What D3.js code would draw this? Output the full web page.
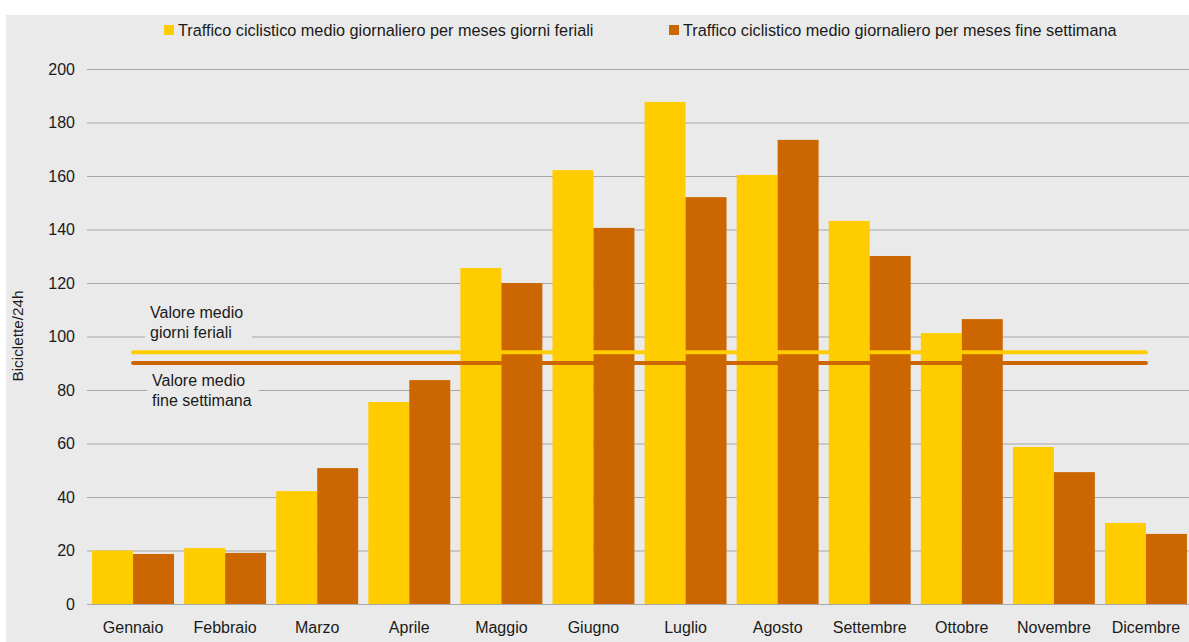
<!DOCTYPE html>
<html>
<head>
<meta charset="utf-8">
<script src="https://cdn.jsdelivr.net/npm/d3@7"></script>
<style>
  html, body { margin: 0; padding: 0; background: #ffffff; }
  svg { display: block; }
  text { font-family: "Liberation Sans", Arial, sans-serif; fill: #1a1a1a; }
</style>
</head>
<body>
<svg id="chart" width="1189" height="642"></svg>
<script>
const months = ["Gennaio","Febbraio","Marzo","Aprile","Maggio","Giugno","Luglio","Agosto","Settembre","Ottobre","Novembre","Dicembre"];
const seriesNames = [
  "Traffico ciclistico medio giornaliero per meses giorni feriali",
  "Traffico ciclistico medio giornaliero per meses fine settimana"
];
const weekdayValues = [20.0, 20.9, 42.2, 75.5, 125.6, 162.2, 187.7, 160.4, 143.2, 101.3, 58.7, 30.3];
const weekendValues = [18.7, 19.1, 50.8, 83.7, 120.0, 140.6, 152.1, 173.5, 130.1, 106.5, 49.3, 26.2];
const meanWeekday = 94.1;
const meanWeekend = 90.1;
const yTicks = [0, 20, 40, 60, 80, 100, 120, 140, 160, 180, 200];
const meanLabels = [["Valore medio", "giorni feriali"], ["Valore medio", "fine settimana"]];
const yTitle = "Biciclette/24h";

const colors = ["#FFCC00", "#CC6600"];
const bg = "#EAEAEA";
const W = 1189, H = 642;
const plotLeft = 87, plotRight = 1189;

const svg = d3.select("#chart");
svg.append("rect").attr("x", 6).attr("y", 15).attr("width", W - 6).attr("height", H - 15).attr("fill", bg);

const y = d3.scaleLinear().domain([0, 200]).range([604, 69]);
const x0 = d3.scaleBand().domain(months).range([87, 1192]).paddingInner(0.11).paddingOuter(0.055);
const x1 = d3.scaleBand().domain(seriesNames).range([0, x0.bandwidth()]);

// gridlines + y tick labels
const yAxis = svg.append("g")
  .attr("transform", `translate(${plotLeft},0)`)
  .call(d3.axisLeft(y).tickValues(yTicks).tickSize(-(plotRight - plotLeft)).tickPadding(12).tickFormat(d3.format("d")));
yAxis.select(".domain").remove();
yAxis.selectAll(".tick line").attr("stroke", "#A6A6A6").attr("stroke-width", 1.2);
yAxis.selectAll(".tick text").attr("font-size", 16).attr("fill", "#1a1a1a").attr("font-family", "Liberation Sans, Arial, sans-serif");

// annotation background boxes (hide gridlines behind text)
const annBoxes = [
  {x: 145, y: 300, w: 107, h: 44, lines: meanLabels[0], tx: 150, ty: 318},
  {x: 147, y: 367, w: 112, h: 43, lines: meanLabels[1], tx: 152, ty: 386}
];
annBoxes.forEach(a => {
  svg.append("rect").attr("x", a.x).attr("y", a.y).attr("width", a.w).attr("height", a.h).attr("fill", bg);
});

// bars
const seriesData = [weekdayValues, weekendValues];
const groups = svg.append("g").selectAll("g")
  .data(months)
  .join("g")
  .attr("transform", d => `translate(${x0(d)},0)`);
groups.selectAll("rect")
  .data((m, i) => seriesNames.map((s, j) => ({s, v: seriesData[j][i], c: colors[j]})))
  .join("rect")
  .attr("x", d => x1(d.s))
  .attr("width", x1.bandwidth())
  .attr("y", d => y(d.v))
  .attr("height", d => y(0) - y(d.v))
  .attr("fill", d => d.c);

// mean lines
const xStart = x0(months[0]) + x0.bandwidth() / 2;
const xEnd = x0(months[months.length - 1]) + x0.bandwidth() / 2;
[[meanWeekday, colors[0]], [meanWeekend, colors[1]]].forEach(([v, c]) => {
  svg.append("line")
    .attr("x1", xStart).attr("x2", xEnd)
    .attr("y1", y(v)).attr("y2", y(v))
    .attr("stroke", c).attr("stroke-width", 4).attr("stroke-linecap", "round");
});

// annotation texts
annBoxes.forEach(a => {
  const t = svg.append("text").attr("x", a.tx).attr("y", a.ty).attr("font-size", 16);
  a.lines.forEach((l, i) => {
    t.append("tspan").attr("x", a.tx).attr("dy", i === 0 ? 0 : 20).text(l);
  });
});

// x axis labels
const xAxis = svg.append("g")
  .attr("transform", `translate(0,${y(0)})`)
  .call(d3.axisBottom(x0).tickSize(0).tickPadding(18));
xAxis.select(".domain").remove();
xAxis.selectAll(".tick text").attr("font-size", 16).attr("fill", "#1a1a1a").attr("font-family", "Liberation Sans, Arial, sans-serif");

// y title
svg.append("text")
  .attr("transform", `translate(23,336) rotate(-90)`)
  .attr("text-anchor", "middle")
  .attr("font-size", 15.3)
  .text(yTitle);

// legend
const legendPos = [{sx: 164, tx: 178}, {sx: 669, tx: 683}];
seriesNames.forEach((s, i) => {
  svg.append("rect").attr("x", legendPos[i].sx).attr("y", 25).attr("width", 10).attr("height", 10).attr("fill", colors[i]);
  svg.append("text").attr("x", legendPos[i].tx).attr("y", 36).attr("font-size", 16.25).text(s);
});
</script>
</body>
</html>
